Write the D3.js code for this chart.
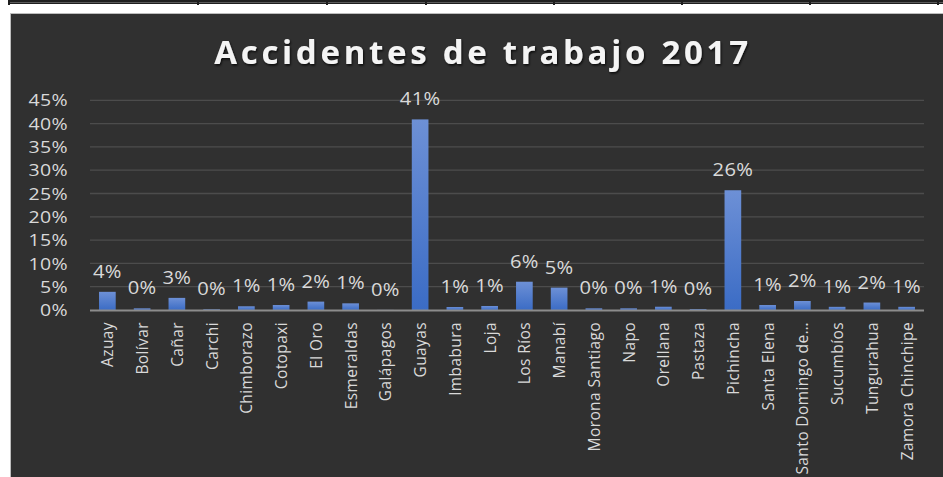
<!DOCTYPE html>
<html>
<head>
<meta charset="utf-8">
<script src="https://cdn.jsdelivr.net/npm/d3@7"></script>
<style>
  html, body { margin: 0; padding: 0; background: #ffffff; }
  svg { display: block; }
  text { font-family: "Open Sans", "Noto Sans", sans-serif; }
</style>
</head>
<body>
<svg id="chart" width="943" height="477"></svg>
<script>
// Provinces and share of work accidents (fraction of total), 2017
const provincias = ["Azuay", "Bolívar", "Cañar", "Carchi", "Chimborazo", "Cotopaxi", "El Oro",
  "Esmeraldas", "Galápagos", "Guayas", "Imbabura", "Loja", "Los Ríos", "Manabí",
  "Morona Santiago", "Napo", "Orellana", "Pastaza", "Pichincha", "Santa Elena",
  "Santo Domingo de…", "Sucumbíos", "Tungurahua", "Zamora Chinchipe"];
const porcentajes = [0.039, 0.0036, 0.026, 0.0015, 0.008, 0.0107, 0.018,
  0.0143, 0.0002, 0.409, 0.0064, 0.0086, 0.0607, 0.048,
  0.0036, 0.0036, 0.007, 0.002, 0.257, 0.0107,
  0.0193, 0.0068, 0.016, 0.0068];
const yTicks = [0, 0.05, 0.10, 0.15, 0.20, 0.25, 0.30, 0.35, 0.40, 0.45];
const titulo = "Accidentes de trabajo 2017";
</script>
<script>
const svg = d3.select("#chart");

// Bottom border of the table row above the chart
const tabla = svg.append("g");
tabla.append("rect").attr("x", 9).attr("y", 0).attr("width", 934).attr("height", 4).attr("fill", "#1e1e1e");
tabla.append("line").attr("x1", 9).attr("x2", 943).attr("y1", 2.5).attr("y2", 2.5).attr("stroke", "#6a6a6a").attr("stroke-width", 0.8);
[9, 198, 327, 426, 554, 682, 810, 938].forEach(x => {
  tabla.append("rect").attr("x", x - 1).attr("y", 0).attr("width", 2).attr("height", 5).attr("fill", "#1e1e1e");
});

// Chart area background
svg.append("rect").attr("x", 10.5).attr("y", 13.5).attr("width", 940).attr("height", 470)
  .attr("fill", "#303030").attr("stroke", "#bdbdbd").attr("stroke-width", 1);

const defs = svg.append("defs");
const grad = defs.append("linearGradient").attr("id", "barGrad").attr("x1", 0).attr("x2", 0).attr("y1", 0).attr("y2", 1);
grad.append("stop").attr("offset", "0%").attr("stop-color", "#6d90d6");
grad.append("stop").attr("offset", "100%").attr("stop-color", "#3b6cc5");
const shadow = defs.append("filter").attr("id", "titleShadow").attr("x", "-5%").attr("y", "-20%").attr("width", "110%").attr("height", "140%");
shadow.append("feDropShadow").attr("dx", 1).attr("dy", 1.5).attr("stdDeviation", 1.2).attr("flood-color", "#000").attr("flood-opacity", 0.8);

// Names and values are paired by index
const data = porcentajes.map((v, i) => ({ name: provincias[i], value: v }));

const x = d3.scaleBand().domain(data.map(d => d.name)).range([90, 924]).paddingInner(0.52).paddingOuter(0.26);
const y = d3.scaleLinear().domain([0, 0.45]).range([310, 100.3]);
const fmt = d3.format(".0%");

// Title
svg.append("text").attr("x", 483).attr("y", 64).attr("text-anchor", "middle")
  .attr("fill", "#f4f4f4").attr("font-size", 33).attr("font-weight", 700)
  .attr("letter-spacing", 3.7).attr("filter", "url(#titleShadow)").text(titulo);

// Gridlines
svg.append("g").selectAll("line").data(yTicks.filter(t => t > 0)).join("line")
  .attr("x1", 90).attr("x2", 924).attr("y1", d => y(d)).attr("y2", d => y(d))
  .attr("stroke", "#4c4c4c").attr("stroke-width", 1.3);

// Y axis labels (slightly wide lettering)
const yAxis = d3.axisLeft(y).tickValues(yTicks).tickFormat(fmt).tickSize(0).tickPadding(0);
const gy = svg.append("g").attr("transform", "translate(68,0)").call(yAxis);
gy.select(".domain").remove();
gy.selectAll("text").attr("fill", "#d9d9d9").attr("font-size", 16).attr("letter-spacing", 0.3)
  .attr("dy", "0.35em").attr("x", 0).attr("font-family", "'Open Sans', sans-serif")
  .attr("transform", "scale(1.22,1)");

// Bars
svg.append("g").selectAll("rect").data(data).join("rect")
  .attr("x", d => x(d.name)).attr("width", x.bandwidth())
  .attr("y", d => y(d.value)).attr("height", d => y(0) - y(d.value))
  .attr("fill", "url(#barGrad)");

// Value labels above each bar
svg.append("g").selectAll("text").data(data).join("text")
  .attr("transform", d => `translate(${x(d.name) + x.bandwidth() / 2},${y(d.value) - 14}) scale(1.12,1)`)
  .attr("text-anchor", "middle").attr("fill", "#d9d9d9").attr("font-size", 18).attr("letter-spacing", 0.3)
  .text(d => fmt(d.value));

// X axis line and rotated category labels
const xAxis = d3.axisBottom(x).tickSize(0).tickPadding(0);
const gx = svg.append("g").attr("transform", "translate(0,310)").call(xAxis);
gx.select(".domain").attr("stroke", "#8c8c8c").attr("stroke-width", 2).attr("d", "M90,0.5H924");
gx.selectAll(".tick text").attr("fill", "#d9d9d9").attr("font-size", 15.5).attr("letter-spacing", 0.4)
  .attr("font-family", "'Open Sans', sans-serif")
  .attr("text-anchor", "end").attr("dy", null).attr("y", 0)
  .attr("transform", "translate(6,12) scale(1.1,1) rotate(-90)");
</script>
</body>
</html>
